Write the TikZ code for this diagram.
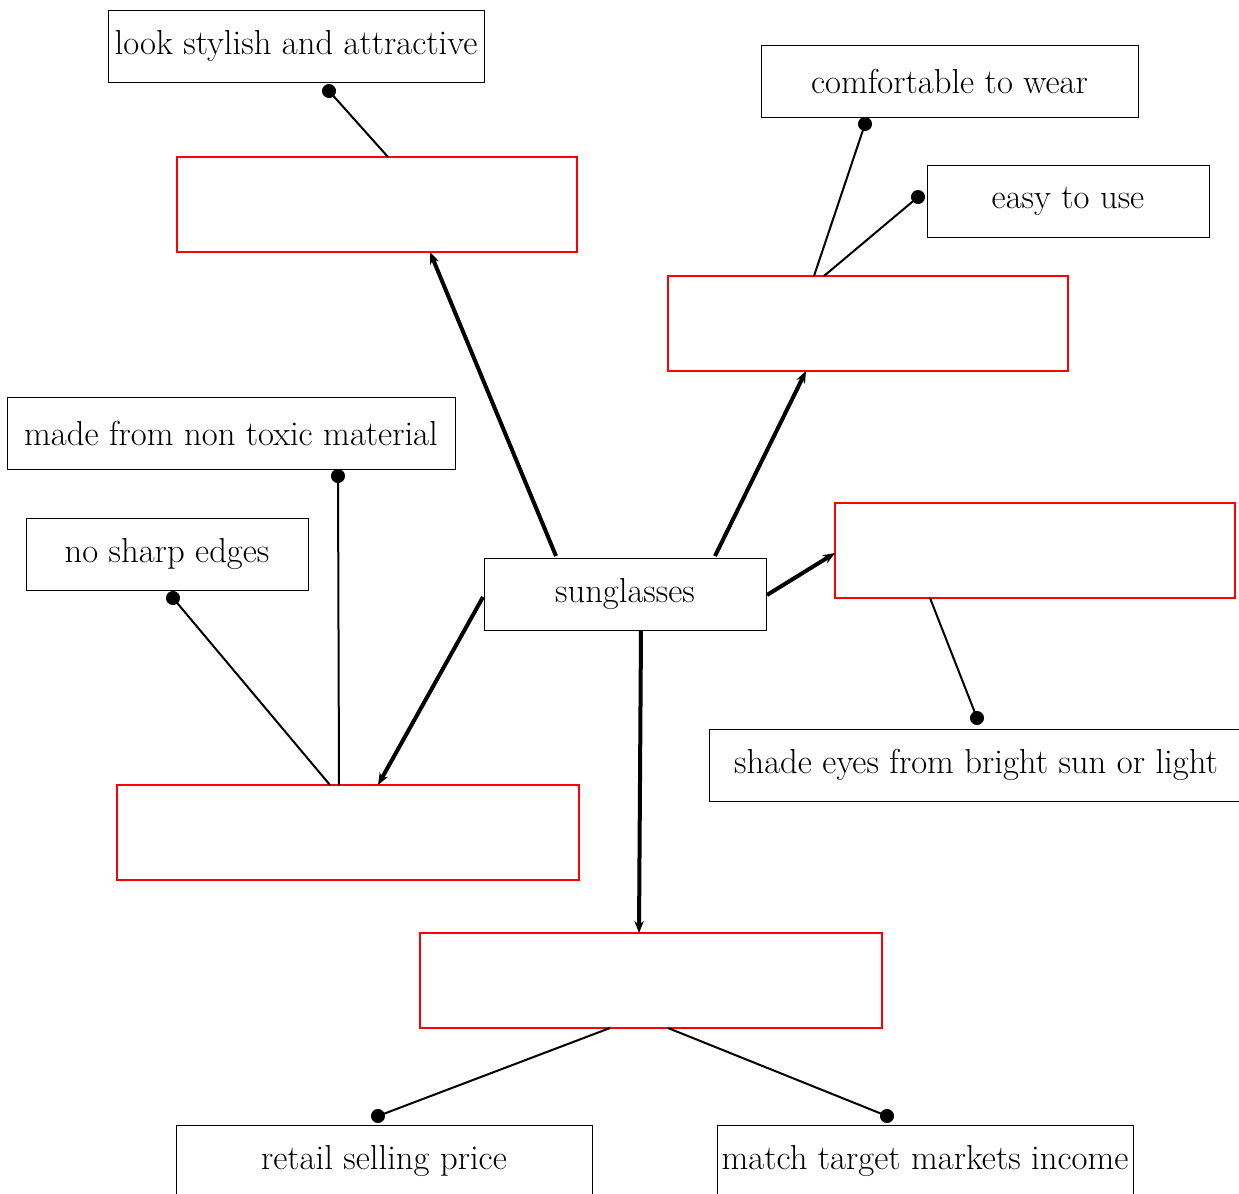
\documentclass[tikz,border=0pt]{standalone}
\usetikzlibrary{arrows.meta,calc}
\begin{document}
\begin{tikzpicture}[x=0.75pt,y=-0.75pt,
  bx/.style 2 args={draw=black,line width=0.75pt,minimum width=#1*0.75pt,minimum height=#2*0.75pt,inner sep=0pt,outer sep=0pt,font=\fontsize{26}{31}\selectfont},
  rbx/.style 2 args={draw=red,line width=1.6pt,minimum width=#1*0.75pt,minimum height=#2*0.75pt,inner sep=0pt,outer sep=0pt},
  thickarrow/.style={line width=3pt,-{Stealth[length=9pt,width=7pt]}},
  dotline/.style={line width=1.5pt,-{Circle[length=10.5pt,width=10.5pt]},shorten >=-5.25pt}]
\useasboundingbox (0,0) rectangle (1239,1193);
% boxes
\node[bx={376}{72}] (look) at (296,46) {look stylish and attractive};
\node[rbx={400}{95}] (red1) at (377,204.5) {};
\node[bx={377}{72}] (comf) at (949.5,81) {comfortable to wear};
\node[bx={282}{72}] (easy) at (1068,201) {easy to use};
\node[rbx={400}{95}] (red2) at (868,323.5) {};
\node[bx={448}{72}] (made) at (231,433) {made from non toxic material};
\node[bx={282}{72}] (nosharp) at (167,554) {no sharp edges};
\node[bx={282}{72}] (sung) at (625,594) {sunglasses};
\node[rbx={400}{95}] (red3) at (1035,550.5) {};
\node[bx={534}{72}] (shade) at (976,765) {shade eyes from bright sun or light};
\node[rbx={462}{95}] (red4) at (348,832.5) {};
\node[rbx={462}{95}] (red5) at (651,980.5) {};
\node[bx={416}{72}] (retail) at (384,1161) {retail selling price};
\node[bx={416}{72}] (match) at (925,1161) {match target markets income};
% coordinates for connector ends
\coordinate (s1) at (556,556);
\coordinate (s2) at (715,556);
\coordinate (s3) at (767,595);
\coordinate (s4) at (483,597);
\coordinate (s5) at (641,630);
\coordinate (e1) at (430,252);
\coordinate (e2) at (806,371);
\coordinate (e3) at (835,553);
\coordinate (e4) at (378,785);
\coordinate (e5) at (639,933);
\draw[thickarrow] (s1) -- (e1);
\draw[thickarrow] (s2) -- (e2);
\draw[thickarrow] (s3) -- (e3);
\draw[thickarrow] (s4) -- (e4);
\draw[thickarrow] (s5) -- (e5);
% dot connectors
\coordinate (a1) at (388,157); \coordinate (d1) at (329,91);
\coordinate (a2) at (814,276); \coordinate (d2) at (865,124);
\coordinate (a3) at (824,276); \coordinate (d3) at (918,197);
\coordinate (a4) at (930,598); \coordinate (d4) at (977,718);
\coordinate (a5) at (330,785); \coordinate (d5) at (173,598);
\coordinate (a6) at (339,785); \coordinate (d6) at (338,476);
\coordinate (a7) at (610,1028); \coordinate (d7) at (378,1116);
\coordinate (a8) at (668,1028); \coordinate (d8) at (887,1116);
\draw[dotline] (a1) -- (d1);
\draw[dotline] (a2) -- (d2);
\draw[dotline] (a3) -- (d3);
\draw[dotline] (a4) -- (d4);
\draw[dotline] (a5) -- (d5);
\draw[dotline] (a6) -- (d6);
\draw[dotline] (a7) -- (d7);
\draw[dotline] (a8) -- (d8);
\end{tikzpicture}
\end{document}
